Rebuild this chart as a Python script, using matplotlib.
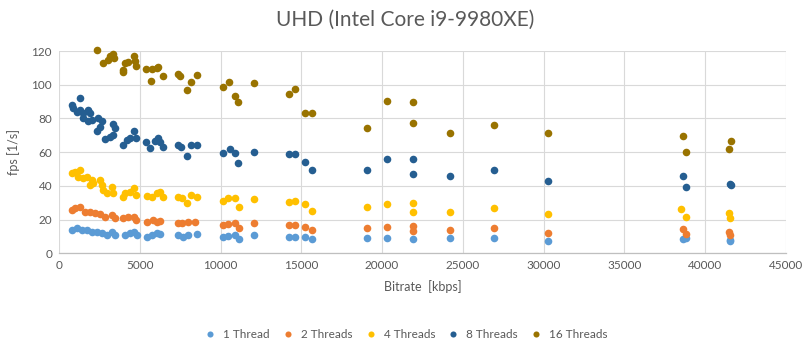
import matplotlib
matplotlib.use("Agg")
import matplotlib.pyplot as plt
from matplotlib.ticker import MultipleLocator

plt.rcParams['font.family'] = ['Lato', 'DejaVu Sans']

title = "UHD (Intel Core i9-9980XE)"
series_names = ["1 Thread", "2 Threads", "4 Threads", "8 Threads", "16 Threads"]
colors = ["#5B9BD5", "#ED7D31", "#FFC000", "#255E91", "#997300"]

x1 = [785, 1095, 1405, 1710, 2020, 2333, 2640, 2950, 3260, 3465, 4085, 4394, 4640, 4805,
      5465, 5735, 6045, 6250, 7385, 7690, 8000, 8520, 10170, 10480, 10890, 11140, 12085,
      14250, 14600, 15220, 15640, 19040, 20280, 21890, 24195, 26940, 30280, 38595, 38800,
      41520, 41560]
y1 = [13.8, 14.8, 13.8, 13.8, 12.8, 12.8, 11.9, 10.8, 12.8, 11.0, 10.8, 11.9, 12.8, 10.8,
      9.8, 10.8, 11.9, 11.2, 10.8, 9.8, 10.8, 11.4, 9.5, 10.3, 10.8, 8.3, 10.8,
      9.5, 9.5, 9.8, 8.3, 9.3, 9.3, 8.3, 9.3, 9.3, 7.3, 8.3, 8.8,
      7.3, 8.0]

x2 = [785, 990, 1300, 1610, 1920, 2230, 2537, 2847, 3260, 3465, 3980, 4290, 4640, 4765,
      5465, 5835, 6045, 6250, 7385, 7600, 8000, 8415, 10170, 10480, 10890, 11140, 12085,
      14250, 14600, 15220, 15640, 19040, 20280, 21890, 21890, 24195, 26940, 30280,
      38595, 38800, 41480, 41560]
y2 = [25.7, 26.7, 27.6, 24.7, 24.7, 23.7, 23.1, 21.7, 22.7, 20.7, 20.7, 21.7, 21.7, 19.7,
      18.7, 19.7, 18.7, 19.0, 17.8, 17.8, 18.7, 18.7, 16.8, 17.3, 17.8, 14.8, 17.8,
      16.8, 16.8, 15.8, 13.8, 14.8, 15.8, 16.2, 13.4, 13.8, 14.8, 12.2,
      14.2, 11.6, 12.8, 11.0]

x4 = [785, 990, 1195, 1300, 1505, 1710, 1920, 2020, 2125, 2537, 2640, 2741, 2950, 3260,
      3360, 3980, 4085, 4394, 4640, 4765, 5425, 5735, 6045, 6250, 6460, 7385, 7590, 7900,
      8170, 8520, 10170, 10480, 10890, 11140, 12085, 14250, 14600, 15220, 15640, 19040,
      20280, 21890, 21890, 24195, 26940, 30280, 38530, 38800, 41480, 41560]
y4 = [47.4, 48.4, 45.4, 49.4, 44.5, 45.4, 40.5, 43.5, 41.5, 43.5, 40.5, 37.5, 35.6, 39.5,
      35.6, 33.6, 35.6, 36.5, 38.9, 34.6, 34.1, 33.6, 35.6, 36.5, 33.6, 33.6, 32.6, 30.0,
      34.6, 33.2, 31.2, 32.6, 32.6, 27.3, 32.0, 30.2, 31.2, 29.2, 25.3, 27.6,
      29.2, 29.6, 24.7, 24.7, 26.7, 23.3, 26.1, 21.3, 24.1, 20.7]

x8 = [785, 885, 1095, 1300, 1300, 1505, 1505, 1815, 1815, 1920, 2020, 2333, 2430, 2537,
      2640, 2847, 3156, 3360, 3360, 3465, 3980, 4190, 4394, 4640, 4765, 5384, 5630, 5940,
      6145, 6250, 6460, 7385, 7550, 7900, 8170, 8520, 10170, 10580, 10890, 11100, 12085,
      14250, 14600, 15220, 15640, 19040, 20280, 21890, 21890, 24195, 26940, 30280,
      38595, 38800, 41520, 41600]
y8 = [87.9, 86.0, 84.0, 92.2, 85.0, 83.0, 80.0, 85.0, 78.4, 83.0, 79.0, 72.5, 80.4, 75.0,
      78.4, 67.8, 69.1, 76.5, 70.1, 74.1, 64.2, 67.2, 68.5, 72.5, 68.5, 66.2, 62.2, 66.6,
      68.2, 66.2, 63.2, 64.2, 62.8, 57.7, 64.2, 64.2, 59.3, 61.6, 59.6, 53.4, 60.2,
      58.7, 58.7, 53.9, 49.4, 49.4, 55.9, 55.9, 46.8, 45.8, 49.4, 43.0,
      45.8, 39.5, 41.1, 40.5]

x16 = [2333, 2741, 3050, 3156, 3360, 3422, 3980, 3980, 4085, 4290, 4640, 4703, 4765, 5384,
       5670, 5735, 6085, 6145, 6460, 7385, 7490, 7900, 8170, 8520, 10170, 10520, 10890,
       11100, 12085, 14250, 14600, 15220, 15640, 19040, 20280, 21890, 21890, 24195, 26940,
       30280, 38595, 38800, 41460, 41565]
y16 = [120.4, 113.0, 114.6, 117.0, 118.5, 115.6, 109.0, 107.6, 112.6, 113.6, 117.2, 114.2,
       111.0, 109.6, 102.3, 109.6, 110.2, 110.6, 105.0, 106.2, 105.0, 96.8, 101.7, 105.7,
       98.8, 101.7, 93.3, 89.9, 100.8, 94.4, 97.2, 83.3, 83.3, 74.1, 90.5, 89.9, 77.1,
       71.1, 76.0, 71.1, 69.5, 60.2, 61.6, 66.6]

xs = [x1, x2, x4, x8, x16]
ys = [y1, y2, y4, y8, y16]

fig = plt.figure(figsize=(8.09, 3.49), dpi=100)
ax = fig.add_axes([59/809, (349-253.3)/349, (786-59)/809, (253.3-51)/349])

for x, y, c, n in zip(xs, ys, colors, series_names):
    ax.scatter(x, y, s=30, color=c, label=n, linewidths=0, zorder=3, clip_on=False)

ax.set_xlim(0, 45000)
ax.set_ylim(0, 120)
ax.xaxis.set_major_locator(MultipleLocator(5000))
ax.yaxis.set_major_locator(MultipleLocator(20))
ax.grid(True, color="#D9D9D9", linewidth=0.8, zorder=0)
ax.set_axisbelow(True)
for s in ["top", "right", "left"]:
    ax.spines[s].set_visible(False)
ax.spines["bottom"].set_color("#BFBFBF")
ax.spines["bottom"].set_linewidth(0.9)
ax.tick_params(axis="both", length=0, labelsize=8.5, labelcolor="#595959", pad=5)

fig.text(405/809, 1 - 20/349, title, fontsize=15, color="#595959", ha="center", va="center")
ax.set_xlabel("Bitrate  [kbps]", fontsize=9, color="#595959", labelpad=6)
ax.set_ylabel("fps [1/s]", fontsize=9, color="#595959", labelpad=8)

leg = fig.legend(loc="center", bbox_to_anchor=(403/809, (349-334)/349), ncol=5,
                 frameon=False, fontsize=8.5, handletextpad=0.1, columnspacing=0.55,
                 markerscale=0.8)
for t in leg.get_texts():
    t.set_color("#595959")

fig.savefig("out.png", dpi=100)
